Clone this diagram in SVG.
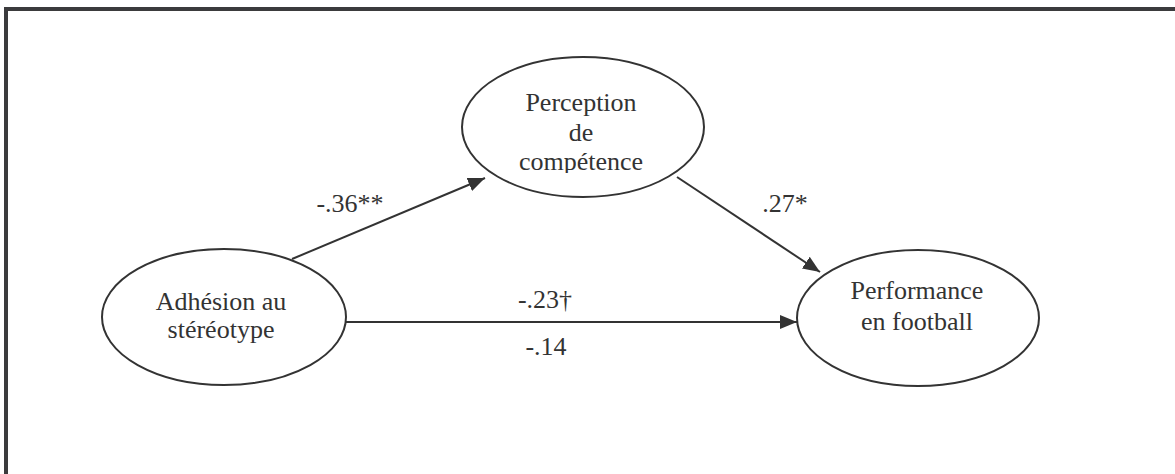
<svg xmlns="http://www.w3.org/2000/svg" width="1175" height="474" viewBox="0 0 1175 474">
<style>
.n{fill:#fff;stroke:#333;stroke-width:2}
.t{font-family:"Liberation Serif","Times New Roman",serif;font-size:26px;fill:#333;text-anchor:middle}
.e{stroke:#333;stroke-width:2;fill:none;marker-end:url(#ah)}
</style>
<defs>
<marker id="ah" markerUnits="userSpaceOnUse" markerWidth="18" markerHeight="14" refX="17" refY="7" orient="auto">
<path d="M0,0 L17,7 L0,14 Z" fill="#333"/>
</marker>
<clipPath id="cp"><rect x="440" y="50" width="290" height="123"/></clipPath>
</defs>
<rect x="0" y="0" width="1175" height="474" fill="#fff"/>
<path d="M6,474 L6,9 L1175,9" fill="none" stroke="#3b3b3d" stroke-width="4"/>
<g id="connectors">
<line class="e" x1="292" y1="259" x2="485" y2="178"/>
<line class="e" x1="677" y1="177" x2="820" y2="272"/>
<line class="e" x1="342" y1="322" x2="797" y2="322"/>
<text class="t" x="350" y="212">-.36**</text>
<text class="t" x="785" y="212">.27*</text>
<text class="t" x="545" y="308">-.23†</text>
<text class="t" x="546" y="355">-.14</text>
</g>
<g id="node-perception">
<ellipse class="n" cx="583" cy="127" rx="121" ry="70"/>
<g clip-path="url(#cp)">
<text class="t" x="581" y="111">Perception</text>
<text class="t" x="581" y="141">de</text>
<text class="t" x="581" y="170">compétence</text>
</g>
</g>
<g id="node-adhesion">
<ellipse class="n" cx="224" cy="317" rx="122" ry="68"/>
<text class="t" x="221" y="310">Adhésion au</text>
<text class="t" x="221" y="338">stéréotype</text>
</g>
<g id="node-performance">
<ellipse class="n" cx="918" cy="318" rx="121" ry="68"/>
<text class="t" x="917" y="299">Performance</text>
<text class="t" x="917" y="330">en football</text>
</g>
</svg>
